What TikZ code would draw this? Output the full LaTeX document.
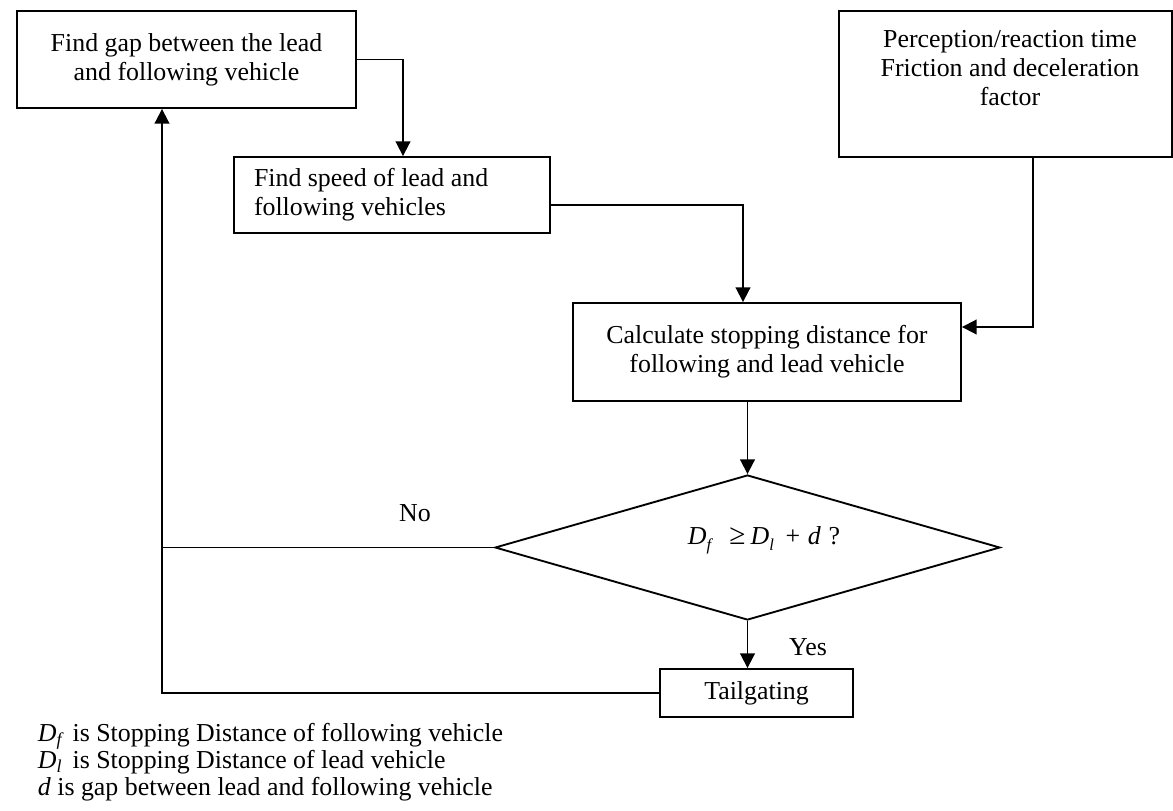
\documentclass[tikz,border=0pt]{standalone}
\usepackage{fontspec}
\setmainfont{Liberation Serif}
\usetikzlibrary{arrows.meta,shapes.geometric}
\newlength\px \setlength\px{0.75pt}
\newcommand\subit[1]{\raisebox{-0.5ex}{\fontsize{12.5}{12.5}\selectfont\itshape #1}}
\begin{document}
\begin{tikzpicture}[x=0.75pt,y=-0.75pt, line width=1.4pt,
  every node/.style={font=\fontsize{19.4}{21.5}\selectfont, inner sep=0pt},
  box/.style={draw, rectangle, line width=1.4pt},
  arr/.style={-{Triangle[length=11pt,width=11pt]}}]
\useasboundingbox (0,0) rectangle (1173,810);

\node[box, minimum width=339\px, minimum height=97\px, align=center] (b1) at (186.5,59.5) {Find gap between the lead\\and following vehicle};
\node[box, minimum width=316\px, minimum height=76\px, align=flush left, text width=276\px] (b2) at (392,195) {Find speed of lead and\\following vehicles};
\node[box, minimum width=388\px, minimum height=98\px, align=center] (b3) at (767,352) {Calculate stopping distance for\\following and lead vehicle};
\node[box, minimum width=333\px, minimum height=146\px] (b4) at (1005.5,84) {};
\node[align=center] (t4) at (1010,68) {Perception/reaction time\\Friction and deceleration\\factor};
\node[draw, diamond, minimum width=505\px, minimum height=145\px, line width=1.4pt] (d) at (747.5,547.5) {};
\node (dq) at (764,540) {{\itshape D}\subit{f}\hspace{0.7em}{\fontsize{22}{22}\selectfont ≥}\hspace{0.2em}{\itshape D}\subit{l}\hspace{0.45em}+\hspace{0.3em}{\itshape d}\hspace{0.3em}?};
\node[box, minimum width=193\px, minimum height=48\px] (t) at (756.5,693) {Tailgating};

\node (no) at (415,513) {No};
\node (yes) at (808,647) {Yes};

\node[anchor=base west] (l1) at (37,741) {{\itshape D}\textsubscript{\itshape f}\hspace{0.4em}is Stopping Distance of following vehicle};
\node[anchor=base west] (l2) at (37,768) {{\itshape D}\textsubscript{\itshape l}\hspace{0.4em}is Stopping Distance of lead vehicle};
\node[anchor=base west] (l3) at (37,795) {{\itshape d} is gap between lead and following vehicle};

\draw[arr] (b1.east) -| ([xshift=11\px]b2.north);
\draw[arr] ([yshift=-10\px]b2.east) -| ([xshift=-24\px]b3.north);
\draw[arr] ([xshift=27.5\px]b4.south) |- ([yshift=25\px]b3.east);
\draw[arr] (d.north |- b3.south) -- (d.north);
\draw[arr] (d.south) -- (d.south |- t.north);
\coordinate (fb) at (162,693);
\draw[arr] (t.west) -- (fb) -- (fb |- b1.south);
\draw (d.west) -- (d.west -| fb);
\end{tikzpicture}
\end{document}
